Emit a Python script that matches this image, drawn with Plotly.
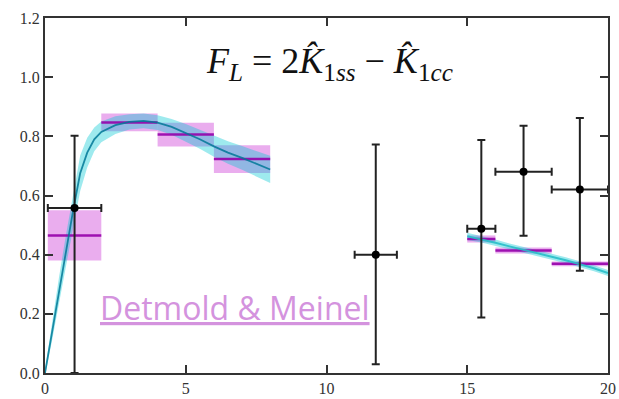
import plotly.graph_objects as go

# Theory curve (low q^2 region)
curve_lo_x = [0, 0.25, 0.5, 0.75, 1.0, 1.25, 1.5, 1.75, 2.0, 2.5, 3.0, 3.5, 4.0, 4.5, 5.0, 5.5, 6.0, 6.5, 7.0, 7.5, 8.0]
curve_lo_y = [0.0, 0.14, 0.28, 0.415, 0.55, 0.675, 0.745, 0.79, 0.815, 0.838, 0.849, 0.852, 0.846, 0.832, 0.812, 0.79, 0.766, 0.745, 0.727, 0.708, 0.688]
curve_lo_err = [0.01, 0.03, 0.045, 0.055, 0.06, 0.06, 0.05, 0.04, 0.035, 0.03, 0.026, 0.025, 0.025, 0.027, 0.03, 0.032, 0.035, 0.038, 0.04, 0.043, 0.046]

# Theory curve (high q^2 region)
curve_hi_x = [15, 15.5, 16, 16.5, 17, 17.5, 18, 18.5, 19, 19.5, 20]
curve_hi_y = [0.462, 0.452, 0.440, 0.428, 0.417, 0.405, 0.393, 0.381, 0.368, 0.354, 0.338]
curve_hi_err = [0.012, 0.011, 0.011, 0.010, 0.010, 0.010, 0.010, 0.010, 0.010, 0.010, 0.010]

# Binned lattice predictions
bin_lo = [0.1, 2, 4, 6, 15, 16, 18]
bin_hi = [2, 4, 6, 8, 16, 18, 20]
bin_val = [0.465, 0.847, 0.806, 0.723, 0.453, 0.414, 0.369]
bin_err = [0.085, 0.03, 0.04, 0.047, 0.012, 0.01, 0.008]

# LHCb data
data_x = [1.05, 11.75, 15.5, 17, 19]
data_xerr = [0.95, 0.75, 0.5, 1.0, 1.0]
data_y = [0.558, 0.40, 0.488, 0.68, 0.62]
data_yerr_plus = [0.244, 0.372, 0.30, 0.156, 0.242]
data_yerr_minus = [0.558, 0.37, 0.30, 0.216, 0.274]

BAND = "rgba(0,200,210,0.38)"
LINE = "rgba(0,120,150,0.85)"
BOX = "rgba(205,60,215,0.42)"
BOXLINE = "rgba(150,0,170,0.9)"

fig = go.Figure()

# boxes
for lo, hi, v, e in zip(bin_lo, bin_hi, bin_val, bin_err):
    fig.add_trace(go.Scatter(
        x=[lo, hi, hi, lo, lo], y=[v - e, v - e, v + e, v + e, v - e],
        fill="toself", fillcolor=BOX, line=dict(width=0), mode="lines",
        hoverinfo="skip", showlegend=False))

# bands
for cx, cy, ce in [(curve_lo_x, curve_lo_y, curve_lo_err), (curve_hi_x, curve_hi_y, curve_hi_err)]:
    upper = [a + b for a, b in zip(cy, ce)]
    lower = [a - b for a, b in zip(cy, ce)]
    fig.add_trace(go.Scatter(
        x=cx + cx[::-1], y=upper + lower[::-1],
        fill="toself", fillcolor=BAND, line=dict(width=0), mode="lines",
        hoverinfo="skip", showlegend=False))

# box center lines
for lo, hi, v in zip(bin_lo, bin_hi, bin_val):
    fig.add_trace(go.Scatter(
        x=[lo, hi], y=[v, v], mode="lines",
        line=dict(color=BOXLINE, width=2.5), showlegend=False, hoverinfo="skip"))

# curve center lines
fig.add_trace(go.Scatter(x=curve_lo_x, y=curve_lo_y, mode="lines", line=dict(color=LINE, width=1.8), showlegend=False))
fig.add_trace(go.Scatter(x=curve_hi_x, y=curve_hi_y, mode="lines", line=dict(color="rgba(40,190,200,0.9)", width=2), showlegend=False))

# data
fig.add_trace(go.Scatter(
    x=data_x, y=data_y, mode="markers",
    marker=dict(color="black", size=8),
    error_x=dict(type="data", array=data_xerr, color="#222", thickness=2, width=4),
    error_y=dict(type="data", array=data_yerr_plus, arrayminus=data_yerr_minus, color="#222", thickness=2, width=4),
    showlegend=False))

fig.add_annotation(
    x=10.1, y=1.045, xref="x", yref="y", showarrow=False,
    text="<i>F</i><sub><i>L</i></sub> = 2<i>K̂</i><sub>1<i>ss</i></sub> − <i>K̂</i><sub>1<i>cc</i></sub>",
    font=dict(family="Liberation Serif", size=36, color="#111"))

fig.add_annotation(
    x=1.88, y=0.222, xref="x", yref="y", showarrow=False, xanchor="left", yanchor="middle",
    text="<u>Detmold &amp; Meinel</u>",
    font=dict(family="Open Sans", size=32, color="#d493de"))

axis_common = dict(showline=True, linecolor="#333", linewidth=2, mirror="allticks",
                   ticks="inside", ticklen=8, tickwidth=2, tickcolor="#333",
                   showgrid=False, zeroline=False, automargin=False,
                   tickfont=dict(family="Liberation Serif", size=16, color="#333"))

fig.update_layout(
    width=619, height=399,
    margin=dict(l=45, r=11, t=18, b=26),
    plot_bgcolor="white", paper_bgcolor="white",
    xaxis=dict(range=[0, 20], tickvals=[0, 5, 10, 15, 20], **axis_common),
    yaxis=dict(range=[0, 1.2], tickvals=[0, 0.2, 0.4, 0.6, 0.8, 1.0, 1.2], tickformat=".1f", **axis_common),
)

fig.write_html("out.html")
